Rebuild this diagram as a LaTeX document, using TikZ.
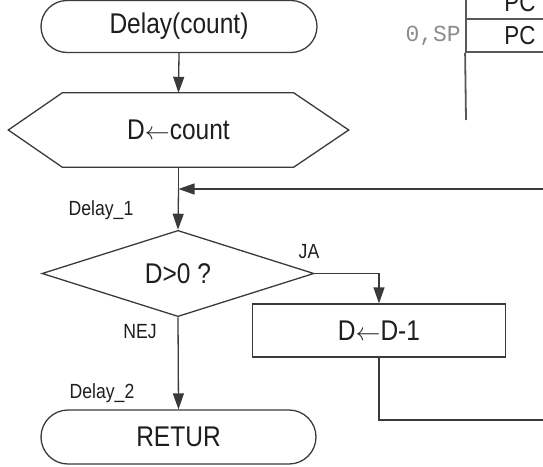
\documentclass[tikz,border=0pt]{standalone}
\usepackage{fontspec}
\setmainfont{Liberation Sans}[FakeStretch=0.86]
\newfontfamily\monof{Liberation Mono}
\usetikzlibrary{arrows.meta,shapes.geometric,calc}
\definecolor{ln}{HTML}{3A3A3A}
\definecolor{tx}{HTML}{1E1E1E}
\definecolor{mono}{HTML}{8C8C8C}
\newcommand{\asgn}{$\leftarrow$}
\tikzset{
  bigtxt/.style={font=\fontsize{28.5}{31}\selectfont, text=tx},
  smalltxt/.style={font=\fontsize{20.5}{23}\selectfont, text=tx, inner sep=0pt},
  term/.style={draw=ln, line width=1.3pt, rounded corners=26pt, minimum width=276pt, minimum height=52pt, bigtxt},
  hexbox/.style={minimum width=340pt, minimum height=74pt, bigtxt},
  decis/.style={diamond, draw=ln, line width=1.3pt, minimum width=272pt, minimum height=83pt, inner sep=0pt, bigtxt},
  procbox/.style={draw=ln, line width=1.3pt, minimum width=253pt, minimum height=53pt, bigtxt},
  arr/.style={draw=ln, line width=1.3pt, -{Triangle[length=16pt,width=11pt]}},
  flow/.style={draw=ln, line width=1.3pt},
  cell/.style={draw=ln!85, line width=1.8pt, minimum width=108pt, minimum height=33pt, font=\fontsize{26}{28}\selectfont, text=tx},
  monotxt/.style={font=\monof\fontsize{23}{25}\selectfont, text=mono, inner sep=0pt}
}
\begin{document}
\begin{tikzpicture}[x=1pt,y=-1pt]
\useasboundingbox (0,0) rectangle (543,466);
\clip (0,0) rectangle (543,466);

% flowchart nodes
\node[term] (start) at (179,26.5) {Delay(count)};
\node[hexbox] (hex) at (178.5,130) {D\asgn count};
\draw[flow] ($(hex.north west)+(54pt,0)$) -- ($(hex.north east)+(-55pt,0)$) -- (hex.east)
  -- ($(hex.south east)+(-55pt,0)$) -- ($(hex.south west)+(54pt,0)$) -- (hex.west) -- cycle;
\node[decis] (dec) at (178,273.5) {D>0 ?};
\node[procbox] (sub) at (379,330.5) {D\asgn D-1};
\node[term, minimum width=275pt, minimum height=54pt, rounded corners=27pt] (ret) at (178.5,437) {RETUR};

% labels
\node[smalltxt] (l1) at (101,210) {Delay\_1};
\node[smalltxt] (ja) at (309,252) {JA};
\node[smalltxt] (nej) at (140,332) {NEJ};
\node[smalltxt] (l2) at (102,393) {Delay\_2};

% connectors
\coordinate (join) at (178.5,189);
\coordinate (loopB) at (570,420);
\coordinate (loopT) at (570,189);
\draw[arr] (start.south) -- (hex.north);
\draw[flow] (hex.south) -- (join);
\draw[arr] (join) -- (dec.north);
\draw[arr] (dec.east) -| (sub.north);
\draw[arr] (dec.south) -- (ret.north);
\draw[arr] (sub.south) |- (loopB) -- (loopT) -- (join);

% stack fragment
\node[cell] (c1) at (520,2.5) {PC};
\node[cell] (c2) at (520,35.5) {PC};
\coordinate (stackend) at (466,120);
\draw[draw=ln!85, line width=1.8pt] (c2.south west) -- (stackend);
\node[monotxt, anchor=east] (sp) at (461,36) {0,SP};
\end{tikzpicture}
\end{document}
